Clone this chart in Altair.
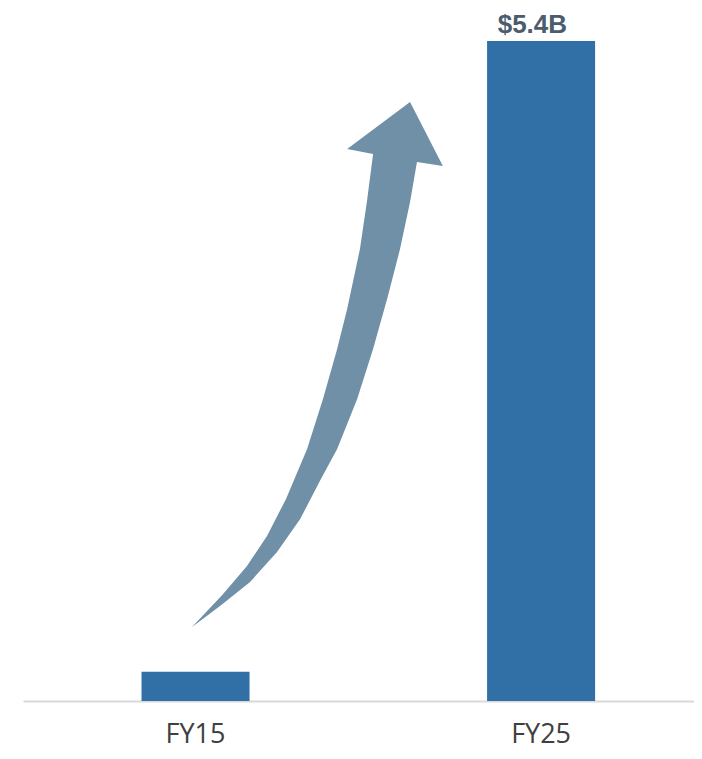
import altair as alt
import pandas as pd

# --- data ---
categories = ["FY15", "FY25"]
values = [0.24, 5.4]            # $B
value_labels = ["", "$5.4B"]

# decorative growth arrow outline, in (category position, $B) units:
# tail -> right edge up -> arrow head -> left edge down
arrow_u = [-0.010, 0.071, 0.158, 0.236, 0.303, 0.363, 0.410, 0.468, 0.514, 0.557, 0.592,
           0.621, 0.641, 0.716, 0.621, 0.439, 0.514, 0.496, 0.476, 0.439, 0.410,
           0.369, 0.323, 0.262, 0.207, 0.149, 0.080]
arrow_v = [0.606, 0.777, 0.974, 1.219, 1.489, 1.816, 2.062, 2.471, 2.880, 3.314, 3.698,
           4.083, 4.410, 4.377, 4.901, 4.516, 4.476, 4.083, 3.698, 3.207, 2.880,
           2.471, 2.062, 1.653, 1.350, 1.105, 0.876]

BAR = "#3170a6"
ARROW = "#6f90a6"
LABEL = "#4b5d6d"

df = pd.DataFrame({"year": categories, "value": values, "label": value_labels})
arrow_df = pd.DataFrame({"u": arrow_u, "v": arrow_v, "i": list(range(len(arrow_u)))})

yscale = alt.Scale(domain=[0, 5.4], nice=False, zero=True)
bandscale = alt.Scale(paddingInner=0.6874, paddingOuter=0.3146, align=0.5451)

xband = alt.X(
    "year:N",
    sort=None,
    title=None,
    scale=bandscale,
    axis=alt.Axis(
        labelAngle=0,
        labelFont="Open Sans",
        labelFontSize=27,
        labelColor="#404040",
        labelBaseline="alphabetic",
        labelPadding=41,
        ticks=False,
        tickSize=0,
        domain=True,
        domainColor="#d9d9d9",
        domainWidth=2,
        grid=False,
    ),
)

bars = alt.Chart(df).mark_bar(color=BAR).encode(
    x=xband,
    y=alt.Y("value:Q", scale=yscale, axis=None),
)

text = alt.Chart(df).mark_text(
    font="Liberation Sans",
    fontSize=26,
    fontWeight="bold",
    color=LABEL,
    baseline="alphabetic",
    dy=-8,
    dx=-9,
).encode(
    x=alt.X("year:N", sort=None, title=None, scale=bandscale, axis=None),
    y=alt.Y("value:Q", scale=yscale, axis=None),
    text="label:N",
)

arrow = alt.Chart(arrow_df).mark_line(
    filled=True, color=ARROW, interpolate="linear"
).encode(
    x=alt.X("u:Q", scale=alt.Scale(domain=[-0.4993, 1.4429], nice=False, zero=False), axis=None),
    y=alt.Y("v:Q", scale=yscale, axis=None),
    order=alt.Order("i:Q"),
)

chart = (
    alt.layer(bars, arrow, text)
    .resolve_scale(x="independent")
    .properties(
        width=671,
        height=660,
        autosize="none",
        padding={"left": 15, "top": 33, "right": 0, "bottom": 48},
    )
    .configure_view(stroke=None)
)

chart.save("out.html", embed_options={"renderer": "svg", "actions": False})
